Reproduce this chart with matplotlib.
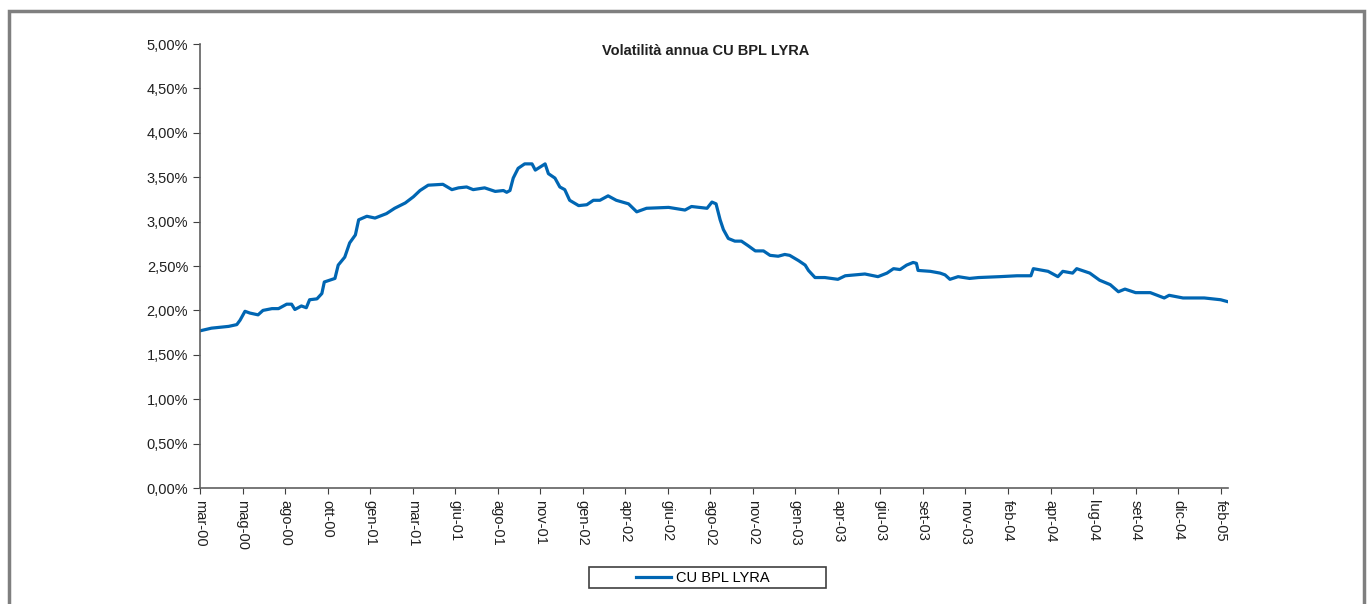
import matplotlib
matplotlib.use("Agg")
import matplotlib.pyplot as plt
from matplotlib.patches import Rectangle
from matplotlib.ticker import FuncFormatter

plt.rcParams['font.family'] = ['Liberation Sans', 'DejaVu Sans']

# trading-day index and annual volatility (%)
days = [0, 14, 35, 45, 49, 55, 61, 71, 77, 88, 96, 106, 112, 116, 124, 130, 134, 143, 149, 152,
        165, 169, 177, 183, 190, 194, 204, 214, 228, 238, 251, 261, 269, 279, 297, 308, 316, 326,
        334, 348, 361, 371, 375, 379, 383, 389, 397, 406, 410, 422, 426, 434, 440, 446, 452, 463,
        473, 481, 489, 499, 509, 524, 534, 546, 573, 593, 601, 620, 626, 631, 636, 640, 646, 654,
        662, 670, 679, 689, 697, 707, 715, 721, 732, 740, 744, 752, 764, 772, 780, 789, 813, 829,
        840, 848, 856, 864, 872, 876, 878, 893, 905, 911, 917, 927, 941, 952, 978, 999, 1016, 1019,
        1037, 1049, 1055, 1067, 1072, 1088, 1100, 1113, 1123, 1131, 1144, 1162, 1179, 1185, 1202,
        1228, 1248, 1256]
vol = [1.77, 1.80, 1.82, 1.84, 1.89, 1.99, 1.97, 1.95, 2.00, 2.02, 2.02, 2.07, 2.07, 2.01, 2.05,
       2.03, 2.12, 2.13, 2.19, 2.32, 2.36, 2.51, 2.60, 2.76, 2.85, 3.02, 3.06, 3.04, 3.09, 3.15,
       3.21, 3.28, 3.35, 3.41, 3.42, 3.36, 3.38, 3.39, 3.36, 3.38, 3.34, 3.35, 3.33, 3.35, 3.49,
       3.60, 3.65, 3.65, 3.58, 3.65, 3.54, 3.49, 3.39, 3.36, 3.24, 3.18, 3.19, 3.24, 3.24, 3.29,
       3.24, 3.20, 3.11, 3.15, 3.16, 3.13, 3.17, 3.15, 3.22, 3.20, 3.02, 2.91, 2.81, 2.78, 2.78,
       2.73, 2.67, 2.67, 2.62, 2.61, 2.63, 2.62, 2.56, 2.51, 2.45, 2.37, 2.37, 2.36, 2.35, 2.39,
       2.41, 2.38, 2.42, 2.47, 2.46, 2.51, 2.54, 2.53, 2.45, 2.44, 2.42, 2.40, 2.35, 2.38, 2.36,
       2.37, 2.38, 2.39, 2.39, 2.47, 2.44, 2.38, 2.44, 2.42, 2.47, 2.42, 2.34, 2.29, 2.21, 2.24,
       2.20, 2.20, 2.14, 2.17, 2.14, 2.14, 2.12, 2.10]

tick_labels = ['mar-00', 'mag-00', 'ago-00', 'ott-00', 'gen-01', 'mar-01', 'giu-01', 'ago-01',
               'nov-01', 'gen-02', 'apr-02', 'giu-02', 'ago-02', 'nov-02', 'gen-03', 'apr-03',
               'giu-03', 'set-03', 'nov-03', 'feb-04', 'apr-04', 'lug-04', 'set-04', 'dic-04',
               'feb-05']
tick_step = 52
y_ticks = [0, 0.5, 1.0, 1.5, 2.0, 2.5, 3.0, 3.5, 4.0, 4.5, 5.0]

W, H = 1370, 604
fig = plt.figure(figsize=(W / 100, H / 100), dpi=100)
ax = fig.add_axes([200 / W, 1 - 488 / H, (1228 - 200) / W, (488 - 44) / H])

line, = ax.plot(days, vol, color='#0066b3', lw=2.3, label='CU BPL LYRA')

ax.set_xlim(0, 1257)
ax.set_ylim(0, 5)
ax.set_xticks([i * tick_step for i in range(len(tick_labels))])
ax.set_xticklabels(tick_labels, rotation=-90, fontsize=10.5)
ax.set_yticks(y_ticks)
ax.yaxis.set_major_formatter(FuncFormatter(lambda v, p: f"{v:.2f}%".replace('.', ',')))
ax.tick_params(axis='y', labelsize=10.5, length=5, color='#404040', labelcolor='#202020')
ax.tick_params(axis='x', length=4, color='#404040', labelcolor='#202020', pad=5)
for s in ['top', 'right']:
    ax.spines[s].set_visible(False)
for s in ['left', 'bottom']:
    ax.spines[s].set_color('#606060')
    ax.spines[s].set_linewidth(1.2)

fig.text(706 / W, 1 - 51 / H, 'Volatilità annua CU BPL LYRA', ha='center', va='center',
         fontsize=10.5, fontweight='bold', color='#202020')

# legend box
fig.patches.append(Rectangle((589 / W, 1 - 588 / H), (826 - 589) / W, (588 - 567) / H,
                             transform=fig.transFigure, fill=False, ec='#404040', lw=1.2))
fig.legend(handles=[line], loc='center left', bbox_to_anchor=(636 / W, 1 - 578 / H),
           frameon=False, fontsize=10.5, handlelength=2.4, handletextpad=0.35,
           borderpad=0, borderaxespad=0)

# outer frame
fig.patches.append(Rectangle((9 / W, -0.05), (1364 - 9) / W, 1 - 11 / H + 0.05,
                             transform=fig.transFigure, fill=False, ec='#7f7f7f', lw=2.5))

fig.savefig('out.png', dpi=100)
